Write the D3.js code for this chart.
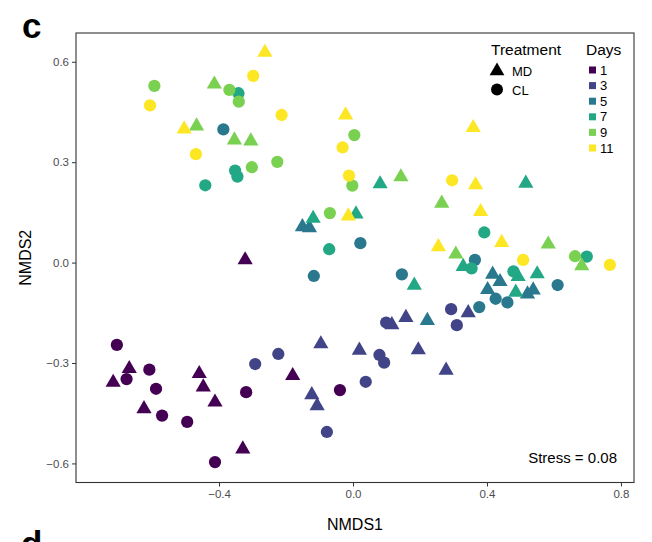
<!DOCTYPE html>
<html>
<head>
<meta charset="utf-8">
<script src="https://cdn.jsdelivr.net/npm/d3@7"></script>
<style>
  body { margin: 0; background: #fff; }
  svg { display: block; font-family: "Liberation Sans", Arial, sans-serif; }
</style>
</head>
<body>
<div id="chart"></div>
<script>
// NMDS scores, one pair of arrays per day (MD = triangle, CL = circle)
const days = [1, 3, 5, 7, 9, 11];
const dayColors = ["#440154", "#414487", "#2A788E", "#22A884", "#7AD151", "#FDE725"];
const treatments = ["MD", "CL"];

const day1MD = [[-0.322, 0.008], [-0.668, -0.317], [-0.716, -0.358], [-0.624, -0.437], [-0.459, -0.332],
  [-0.447, -0.372], [-0.412, -0.417], [-0.329, -0.557], [-0.180, -0.338]];
const day1CL = [[-0.705, -0.246], [-0.676, -0.348], [-0.608, -0.320], [-0.588, -0.377], [-0.570, -0.457],
  [-0.495, -0.476], [-0.412, -0.596], [-0.319, -0.387], [-0.039, -0.381]];

const day3MD = [[-0.096, -0.243], [0.019, -0.262], [0.116, -0.186], [0.158, -0.164], [0.195, -0.261],
  [0.344, -0.150], [0.278, -0.322], [-0.123, -0.395], [-0.107, -0.428]];
const day3CL = [[-0.292, -0.303], [-0.223, -0.273], [-0.078, -0.506], [0.038, -0.356], [0.079, -0.276],
  [0.093, -0.299], [0.099, -0.179], [0.293, -0.139], [0.310, -0.187]];

const day5MD = [[-0.151, 0.107], [-0.130, 0.104], [0.417, -0.035], [0.439, -0.057], [0.402, -0.081],
  [0.521, -0.094], [0.538, -0.082], [0.222, -0.173]];
const day5CL = [[-0.387, 0.398], [-0.117, -0.040], [0.022, 0.058], [0.146, -0.035], [0.364, 0.008],
  [0.611, -0.067], [0.426, -0.108], [0.461, -0.119], [0.377, -0.133]];

const day7MD = [[-0.119, 0.132], [0.009, 0.145], [0.081, 0.235], [0.183, -0.068], [0.516, 0.237],
  [0.329, -0.012], [0.493, -0.042], [0.550, -0.034], [0.486, -0.089]];
const day7CL = [[-0.342, 0.506], [-0.352, 0.275], [-0.345, 0.257], [-0.441, 0.231], [-0.071, 0.040],
  [0.392, 0.090], [0.354, -0.017], [0.479, -0.026], [0.698, 0.018]];

const day9MD = [[-0.414, 0.533], [-0.467, 0.408], [-0.354, 0.366], [-0.305, 0.363], [0.143, 0.256],
  [0.265, 0.177], [0.307, 0.025], [0.583, 0.055], [0.683, -0.010]];
const day9CL = [[-0.593, 0.528], [-0.369, 0.516], [-0.341, 0.481], [-0.302, 0.285], [-0.226, 0.301],
  [-0.069, 0.148], [0.004, 0.381], [-0.002, 0.230], [0.663, 0.019]];

const day11MD = [[-0.263, 0.628], [-0.504, 0.399], [-0.022, 0.441], [0.359, 0.403], [0.366, 0.232],
  [0.381, 0.152], [-0.014, 0.139], [0.255, 0.047], [0.444, 0.060]];
const day11CL = [[-0.606, 0.470], [-0.298, 0.558], [-0.213, 0.441], [-0.469, 0.324], [-0.031, 0.344],
  [-0.012, 0.260], [0.296, 0.246], [0.508, 0.008], [0.767, -0.007]];

const xTicks = [-0.4, 0.0, 0.4, 0.8];
const yTicks = [-0.6, -0.3, 0.0, 0.3, 0.6];
const stressLabel = "Stress = 0.08";

const byDay = [[day1MD, day1CL], [day3MD, day3CL], [day5MD, day5CL],
  [day7MD, day7CL], [day9MD, day9CL], [day11MD, day11CL]];

const points = [];
byDay.forEach(([mdPts, clPts], i) => {
  mdPts.forEach(p => points.push({ day: days[i], trt: "MD", x: p[0], y: p[1] }));
  clPts.forEach(p => points.push({ day: days[i], trt: "CL", x: p[0], y: p[1] }));
});

const W = 652, H = 542;
const margin = { top: 33, right: 18, bottom: 59.5, left: 76 };

const svg = d3.select("#chart").append("svg")
  .attr("width", W).attr("height", H);

const x = d3.scaleLinear().domain([-0.827, 0.839]).range([margin.left, W - margin.right]);
const y = d3.scaleLinear().domain([-0.657, 0.686]).range([H - margin.bottom, margin.top]);
const color = d3.scaleOrdinal().domain(days).range(dayColors);
const shape = d3.scaleOrdinal().domain(treatments).range([d3.symbolTriangle, d3.symbolCircle]);
const size = d3.scaleOrdinal().domain(treatments).range([100, 118]);

const fmt = v => d3.format(".1f")(v).replace("-", "\u2212");

// axes
const xAxis = svg.append("g")
  .attr("transform", `translate(0,${H - margin.bottom})`)
  .call(d3.axisBottom(x).tickValues(xTicks).tickFormat(fmt).tickSize(4).tickPadding(3));
const yAxis = svg.append("g")
  .attr("transform", `translate(${margin.left},0)`)
  .call(d3.axisLeft(y).tickValues(yTicks).tickFormat(fmt).tickSize(4).tickPadding(3));
[xAxis, yAxis].forEach(g => {
  g.select(".domain").remove();
  g.selectAll(".tick line").attr("stroke", "#333").attr("stroke-width", 1);
  g.selectAll(".tick text").attr("fill", "#4D4D4D").style("font-size", "11.5px");
});

// points
svg.append("g").selectAll("path")
  .data(points)
  .join("path")
  .attr("transform", d => `translate(${x(d.x)},${y(d.y)})`)
  .attr("d", d => d3.symbol().type(shape(d.trt)).size(size(d.trt))())
  .attr("fill", d => color(d.day));

// panel border
svg.append("rect")
  .attr("x", margin.left).attr("y", margin.top)
  .attr("width", W - margin.left - margin.right)
  .attr("height", H - margin.top - margin.bottom)
  .attr("fill", "none").attr("stroke", "#333").attr("stroke-width", 1.1);

// axis titles
svg.append("text")
  .attr("x", (margin.left + W - margin.right) / 2).attr("y", 530)
  .attr("text-anchor", "middle").style("font-size", "16px").text("NMDS1");
svg.append("text")
  .attr("transform", `translate(31,${(margin.top + H - margin.bottom) / 2}) rotate(-90)`)
  .attr("text-anchor", "middle").style("font-size", "16px").text("NMDS2");

// stress annotation
svg.append("text")
  .attr("x", 617).attr("y", 463).attr("text-anchor", "end")
  .style("font-size", "15px").text(stressLabel);

// panel letters
svg.append("text").attr("x", 22).attr("y", 38)
  .style("font-size", "35px").style("font-weight", "bold").text("c");
svg.append("text").attr("x", 21).attr("y", 556)
  .style("font-size", "35px").style("font-weight", "bold").text("d");

// legend: treatment
const legT = svg.append("g");
legT.append("text").attr("x", 491).attr("y", 55).style("font-size", "15.5px").text("Treatment");
treatments.forEach((t, i) => {
  const cy = 71 + i * 18.5;
  legT.append("path")
    .attr("transform", `translate(497,${cy})`)
    .attr("d", d3.symbol().type(shape(t)).size(size(t) * 0.95)())
    .attr("fill", "#000");
  legT.append("text").attr("x", 512).attr("y", cy + 5)
    .style("font-size", "13px").text(t);
});

// legend: days
const legD = svg.append("g");
legD.append("text").attr("x", 586).attr("y", 55).style("font-size", "15.5px").text("Days");
days.forEach((d, i) => {
  const cy = 70 + i * 15.6;
  legD.append("rect")
    .attr("x", 589).attr("y", cy - 3.5).attr("width", 7).attr("height", 7)
    .attr("fill", color(d));
  legD.append("text").attr("x", 600).attr("y", cy + 4.5)
    .style("font-size", "13px").text(d);
});
</script>
</body>
</html>
